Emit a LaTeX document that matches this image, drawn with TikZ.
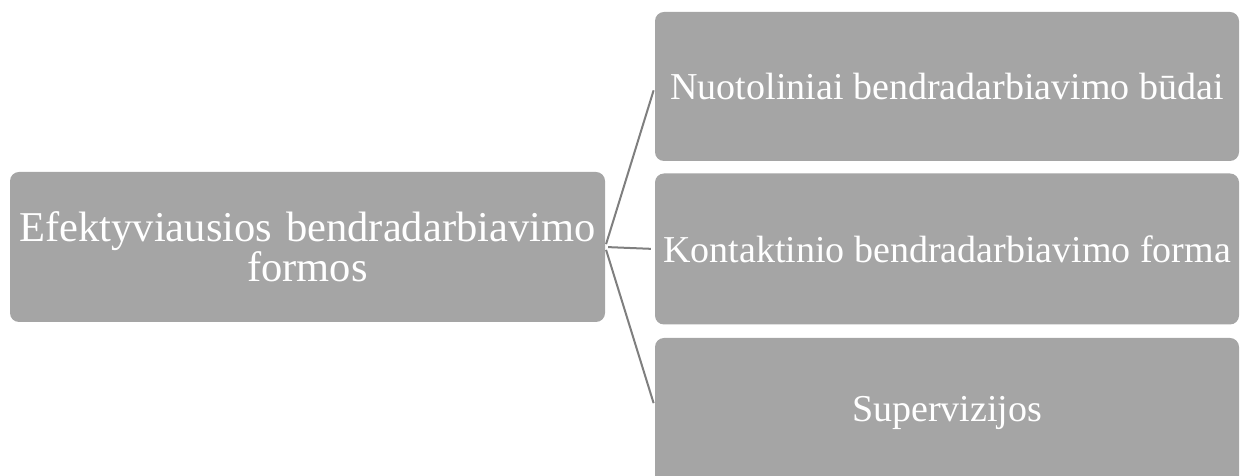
\documentclass[tikz,border=0pt]{standalone}
\usepackage{fontspec}
\setmainfont{Liberation Serif}

\tikzset{
  formbox/.style={rectangle, rounded corners=9pt, fill=boxgray, draw=none,
    text=white, align=center, inner sep=2pt},
  link/.style={draw=linkgray, line width=2pt}
}
\definecolor{boxgray}{HTML}{A5A5A5}
\definecolor{linkgray}{HTML}{7F7F7F}

\begin{document}
\begin{tikzpicture}[x=1pt, y=1pt]
    \clip (0,0) rectangle (1240,476);

    % Draw nodes
    \node[formbox, minimum width=595pt, minimum height=150pt, text width=590pt,
      font=\fontsize{42.5}{40}\selectfont] (root) at (307.5,229)
      {Efektyviausios bendradarbiavimo\\formos};
    \node[formbox, minimum width=584pt, minimum height=149pt,
      font=\fontsize{38}{40}\selectfont] (remote) at (947,389.5)
      {Nuotoliniai bendradarbiavimo būdai};
    \node[formbox, minimum width=584pt, minimum height=151pt,
      font=\fontsize{38}{40}\selectfont] (contact) at (947,227)
      {Kontaktinio bendradarbiavimo forma};
    \node[formbox, minimum width=584pt, minimum height=150pt,
      font=\fontsize{38}{40}\selectfont] (supervision) at (947,63)
      {Supervizijos};

    % Draw connections
    \draw[link, shorten <=3pt, shorten >=4pt] (root.east) -- (remote.west);
    \draw[link, shorten <=3pt, shorten >=4pt] (root.east) -- (contact.west);
    \draw[link, shorten <=3pt, shorten >=4pt] (root.east) -- ([yshift=6pt]supervision.west);
\end{tikzpicture}
\end{document}
